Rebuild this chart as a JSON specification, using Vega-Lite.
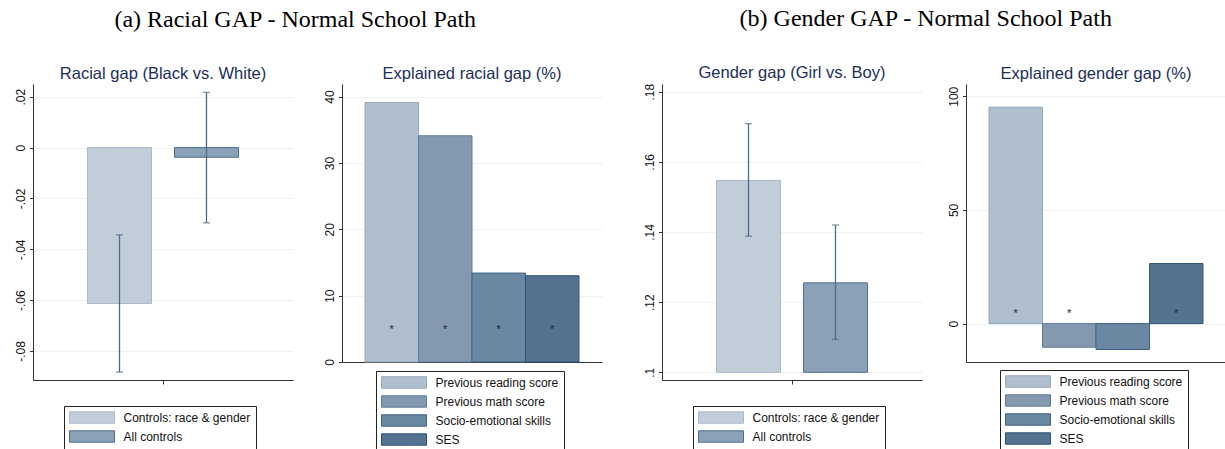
{
  "$schema": "https://vega.github.io/schema/vega-lite/v6.json",
  "background": "white",
  "padding": {"left": 14, "top": 6, "right": 0, "bottom": 0},
  "config": {
    "view": {"stroke": null},
    "font": "Liberation Sans",
    "axis": {"domainColor": "#333333", "tickColor": "#333333", "labelColor": "#111111", "labelFontSize": 12, "labelFont": "Liberation Sans", "gridColor": "#eaf2f3", "gridWidth": 1, "domainWidth": 1, "tickWidth": 1},
    "title": {"font": "Liberation Sans", "fontSize": 16.5, "fontWeight": "normal", "color": "#1c2f5a", "offset": 2},
    "legend": {"orient": "none", "title": null, "strokeColor": "#222222", "fillColor": "white", "padding": 5, "labelFontSize": 12, "labelFont": "Liberation Sans", "labelColor": "#111111", "symbolType": "M-3.75,-0.95H3.75V0.95H-3.75Z", "symbolSize": 144, "symbolOffset": 16.5, "labelOffset": 25, "rowPadding": 2, "symbolStrokeWidth": 1, "symbolFillOpacity": 1}
  },
  "resolve": {"scale": {"fill": "independent", "stroke": "independent"}, "legend": {"fill": "independent", "stroke": "independent"}},
  "spacing": 41,
  "hconcat": [
    {
      "title": {"text": "(a) Racial GAP - Normal School Path", "font": "Liberation Serif", "fontSize": 24, "color": "#000000", "anchor": "middle", "offset": 34, "dx": -13},
      "spacing": 30,
      "resolve": {"scale": {"fill": "independent", "stroke": "independent"}, "legend": {"fill": "independent", "stroke": "independent"}},
      "hconcat": [
        {
          "width": 260, "height": 296,
          "title": "Racial gap (Black vs. White)",
          "data": {"values": [
            {"series": "Controls: race & gender", "gap": -0.0613, "lo": -0.0883, "hi": -0.0343},
            {"series": "All controls", "gap": -0.0038, "lo": -0.0296, "hi": 0.0217}
          ]},
          "encoding": {
            "x": {"datum": "gap", "type": "nominal", "scale": {"paddingInner": 0, "paddingOuter": 0.361}, "axis": {"labels": false, "title": null, "ticks": true, "tickSize": 4, "grid": false, "domain": true}},
            "xOffset": {"field": "series", "type": "nominal", "sort": ["Controls: race & gender", "All controls"], "scale": {"paddingInner": 0.264, "paddingOuter": 0}}
          },
          "layer": [
            {"mark": {"type": "bar", "strokeWidth": 1},
             "encoding": {
               "y": {"field": "gap", "type": "quantitative", "scale": {"domain": [-0.0914, 0.025], "nice": false, "zero": false}, "axis": {"title": null, "values": [-0.08, -0.06, -0.04, -0.02, 0, 0.02], "grid": true, "labelAngle": -90, "tickSize": 3.5, "labelPadding": 2, "labelExpr": "datum.value == 0 ? '0' : (datum.value < 0 ? '-' : '') + replace(format(abs(datum.value), '.2~f'), '0.', '.')"}},
               "y2": {"datum": 0},
               "fill": {"field": "series", "type": "nominal", "scale": {"domain": ["Controls: race & gender", "All controls"], "range": ["#c1cdd9", "#8ba1b7"]}, "legend": {"legendX": 31, "legendY": 322, "labelExpr": "datum.label + '\u00a0\u00a0'"}},
               "stroke": {"field": "series", "type": "nominal", "scale": {"domain": ["Controls: race & gender", "All controls"], "range": ["#a9b9c9", "#4d6d8e"]}, "legend": {"legendX": 31, "legendY": 322, "labelExpr": "datum.label + '\u00a0\u00a0'"}}
             }},
            {"mark": {"type": "rule", "color": "#4a6a8b", "strokeWidth": 1.3},
             "encoding": {"y": {"field": "lo", "type": "quantitative"}, "y2": {"field": "hi"}}},
            {"mark": {"type": "tick", "color": "#4a6a8b", "size": 7, "thickness": 1.3},
             "encoding": {"y": {"field": "lo", "type": "quantitative"}}},
            {"mark": {"type": "tick", "color": "#4a6a8b", "size": 7, "thickness": 1.3},
             "encoding": {"y": {"field": "hi", "type": "quantitative"}}}
          ]
        },
        {
          "width": 260, "height": 278,
          "title": "Explained racial gap (%)",
          "data": {"values": [
            {"factor": "Previous reading score", "pct": 39.1, "star": "*"},
            {"factor": "Previous math score", "pct": 34.1, "star": "*"},
            {"factor": "Socio-emotional skills", "pct": 13.4, "star": "*"},
            {"factor": "SES", "pct": 13.0, "star": "*"}
          ]},
          "encoding": {
            "x": {"field": "factor", "type": "nominal", "sort": ["Previous reading score", "Previous math score", "Socio-emotional skills", "SES"], "scale": {"paddingInner": 0, "paddingOuter": 0.43}, "axis": {"labels": false, "title": null, "ticks": false, "grid": false, "domain": true}}
          },
          "layer": [
            {"mark": {"type": "bar", "strokeWidth": 1},
             "encoding": {
               "y": {"field": "pct", "type": "quantitative", "scale": {"domain": [0, 41.9], "nice": false}, "axis": {"title": null, "values": [0, 10, 20, 30, 40], "grid": true, "labelAngle": -90, "tickSize": 3.5, "labelPadding": 2}},
               "y2": {"datum": 0},
               "fill": {"field": "factor", "type": "nominal", "scale": {"domain": ["Previous reading score", "Previous math score", "Socio-emotional skills", "SES"], "range": ["#b0bfce", "#8499af", "#6b88a3", "#537391"]}, "legend": {"legendX": 34, "legendY": 287, "labelExpr": "datum.label + '\u00a0\u00a0\u00a0\u00a0\u00a0\u00a0\u00a0\u00a0\u00a0\u00a0\u00a0\u00a0'"}},
               "stroke": {"field": "factor", "type": "nominal", "scale": {"domain": ["Previous reading score", "Previous math score", "Socio-emotional skills", "SES"], "range": ["#93a6ba", "#5d7b98", "#3f6284", "#2e5275"]}, "legend": {"legendX": 34, "legendY": 287, "labelExpr": "datum.label + '\u00a0\u00a0\u00a0\u00a0\u00a0\u00a0\u00a0\u00a0\u00a0\u00a0\u00a0\u00a0'"}}
             }},
            {"mark": {"type": "text", "fontSize": 11, "color": "#222222", "baseline": "alphabetic"},
             "encoding": {"text": {"field": "star"}, "y": {"datum": 4.4}}}
          ]
        }
      ]
    },
    {
      "title": {"text": "(b) Gender GAP - Normal School Path", "font": "Liberation Serif", "fontSize": 24, "color": "#000000", "anchor": "middle", "offset": 34, "dx": -9},
      "spacing": 25,
      "resolve": {"scale": {"fill": "independent", "stroke": "independent"}, "legend": {"fill": "independent", "stroke": "independent"}},
      "hconcat": [
        {
          "width": 260, "height": 296,
          "title": "Gender gap (Girl vs. Boy)",
          "data": {"values": [
            {"series": "Controls: race & gender", "gap": 0.1547, "lo": 0.1388, "hi": 0.1709},
            {"series": "All controls", "gap": 0.1255, "lo": 0.1094, "hi": 0.142}
          ]},
          "encoding": {
            "x": {"datum": "gap", "type": "nominal", "scale": {"paddingInner": 0, "paddingOuter": 0.361}, "axis": {"labels": false, "title": null, "ticks": true, "tickSize": 4, "grid": false, "domain": true}},
            "xOffset": {"field": "series", "type": "nominal", "sort": ["Controls: race & gender", "All controls"], "scale": {"paddingInner": 0.264, "paddingOuter": 0}}
          },
          "layer": [
            {"mark": {"type": "bar", "strokeWidth": 1},
             "encoding": {
               "y": {"field": "gap", "type": "quantitative", "scale": {"domain": [0.0978, 0.1822], "nice": false, "zero": false}, "axis": {"title": null, "values": [0.1, 0.12, 0.14, 0.16, 0.18], "grid": true, "labelAngle": -90, "tickSize": 3.5, "labelPadding": 2, "labelExpr": "datum.value == 0 ? '0' : (datum.value < 0 ? '-' : '') + replace(format(abs(datum.value), '.2~f'), '0.', '.')"}},
               "y2": {"datum": 0.1},
               "fill": {"field": "series", "type": "nominal", "scale": {"domain": ["Controls: race & gender", "All controls"], "range": ["#c1cdd9", "#8ba1b7"]}, "legend": {"legendX": 31, "legendY": 322, "labelExpr": "datum.label + '\u00a0\u00a0'"}},
               "stroke": {"field": "series", "type": "nominal", "scale": {"domain": ["Controls: race & gender", "All controls"], "range": ["#a9b9c9", "#4d6d8e"]}, "legend": {"legendX": 31, "legendY": 322, "labelExpr": "datum.label + '\u00a0\u00a0'"}}
             }},
            {"mark": {"type": "rule", "color": "#4a6a8b", "strokeWidth": 1.3},
             "encoding": {"y": {"field": "lo", "type": "quantitative"}, "y2": {"field": "hi"}}},
            {"mark": {"type": "tick", "color": "#4a6a8b", "size": 7, "thickness": 1.3},
             "encoding": {"y": {"field": "lo", "type": "quantitative"}}},
            {"mark": {"type": "tick", "color": "#4a6a8b", "size": 7, "thickness": 1.3},
             "encoding": {"y": {"field": "hi", "type": "quantitative"}}}
          ]
        },
        {
          "width": 260, "height": 278,
          "title": "Explained gender gap (%)",
          "data": {"values": [
            {"factor": "Previous reading score", "pct": 95.2, "star": "*"},
            {"factor": "Previous math score", "pct": -10.4, "star": "*"},
            {"factor": "Socio-emotional skills", "pct": -11.4, "star": ""},
            {"factor": "SES", "pct": 26.4, "star": "*"}
          ]},
          "encoding": {
            "x": {"field": "factor", "type": "nominal", "sort": ["Previous reading score", "Previous math score", "Socio-emotional skills", "SES"], "scale": {"paddingInner": 0, "paddingOuter": 0.43}, "axis": {"labels": false, "title": null, "ticks": false, "grid": false, "domain": true}}
          },
          "layer": [
            {"mark": {"type": "bar", "strokeWidth": 1},
             "encoding": {
               "y": {"field": "pct", "type": "quantitative", "scale": {"domain": [-16.9, 105.4], "nice": false, "zero": false}, "axis": {"title": null, "values": [0, 50, 100], "grid": true, "labelAngle": -90, "tickSize": 3.5, "labelPadding": 2}},
               "y2": {"datum": 0},
               "fill": {"field": "factor", "type": "nominal", "scale": {"domain": ["Previous reading score", "Previous math score", "Socio-emotional skills", "SES"], "range": ["#b0bfce", "#8499af", "#6b88a3", "#537391"]}, "legend": {"legendX": 34, "legendY": 286}},
               "stroke": {"field": "factor", "type": "nominal", "scale": {"domain": ["Previous reading score", "Previous math score", "Socio-emotional skills", "SES"], "range": ["#93a6ba", "#5d7b98", "#3f6284", "#2e5275"]}, "legend": {"legendX": 34, "legendY": 286}}
             }},
            {"mark": {"type": "text", "fontSize": 11, "color": "#222222", "baseline": "alphabetic"},
             "encoding": {"text": {"field": "star"}, "y": {"datum": 3.1}}}
          ]
        }
      ]
    }
  ]
}
